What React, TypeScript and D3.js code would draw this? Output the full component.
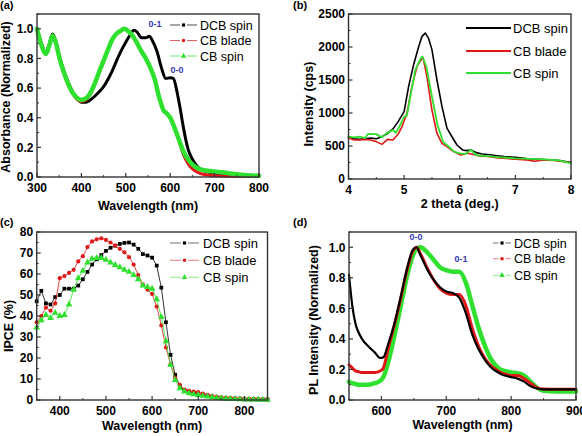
import * as d3 from 'd3'

const W = 582, H = 436
const FONT = "'Liberation Sans', Arial, sans-serif"
const BLACK = '#000000', RED = '#e01818', GREEN = '#2fe02f', NOTE = '#3a3ab0'

const names = ['DCB spin', 'CB blade', 'CB spin']

// (a) UV-vis absorbance, normalized
const absDcbWl = [300, 310, 320, 328, 335, 342, 350, 360, 370, 380, 390, 400, 410, 420, 430, 440, 450, 460, 470, 480, 490, 500, 510, 518, 525, 535, 545, 553, 560, 570, 580, 590, 600, 607, 615, 622, 630, 640, 650, 660, 670, 680, 700, 725, 750, 800]
const absDcb = [1.0, 0.9, 0.84, 0.9, 0.965, 0.92, 0.82, 0.72, 0.64, 0.575, 0.53, 0.505, 0.505, 0.52, 0.545, 0.575, 0.61, 0.66, 0.72, 0.79, 0.855, 0.91, 0.96, 0.99, 0.98, 0.94, 0.94, 0.95, 0.92, 0.85, 0.74, 0.665, 0.67, 0.665, 0.58, 0.47, 0.33, 0.19, 0.12, 0.075, 0.05, 0.038, 0.025, 0.015, 0.01, 0.005]
const absCbWl = [300, 310, 320, 328, 335, 342, 350, 360, 370, 380, 390, 400, 410, 420, 430, 440, 450, 460, 470, 480, 490, 497, 505, 515, 525, 535, 545, 555, 565, 575, 585, 592, 600, 610, 620, 630, 640, 650, 660, 670, 690, 720, 760, 800]
const absBlade = [1.0, 0.89, 0.83, 0.89, 0.955, 0.91, 0.81, 0.71, 0.625, 0.565, 0.525, 0.51, 0.52, 0.56, 0.625, 0.705, 0.78, 0.86, 0.93, 0.97, 0.99, 1.0, 0.985, 0.955, 0.905, 0.85, 0.8, 0.74, 0.66, 0.54, 0.45, 0.43, 0.4, 0.33, 0.24, 0.15, 0.09, 0.055, 0.035, 0.022, 0.012, 0.006, 0.004, 0.003]
const absSpin = [1.0, 0.89, 0.83, 0.89, 0.955, 0.91, 0.81, 0.71, 0.63, 0.57, 0.535, 0.52, 0.53, 0.565, 0.63, 0.71, 0.785, 0.86, 0.93, 0.97, 0.99, 1.0, 0.985, 0.955, 0.905, 0.85, 0.8, 0.74, 0.66, 0.54, 0.45, 0.43, 0.4, 0.33, 0.25, 0.17, 0.12, 0.085, 0.062, 0.05, 0.04, 0.03, 0.015, 0.008]

// (b) out-of-plane XRD
const xrdDcbT = [4.0, 4.1, 4.2, 4.3, 4.4, 4.5, 4.6, 4.7, 4.8, 4.9, 5.0, 5.08, 5.17, 5.26, 5.32, 5.38, 5.44, 5.5, 5.59, 5.68, 5.77, 5.86, 5.95, 6.05, 6.12, 6.2, 6.3, 6.4, 6.5, 6.6, 6.8, 7.0, 7.2, 7.4, 7.6, 7.8, 8.0]
const xrdDcb = [640, 610, 600, 610, 620, 610, 640, 690, 760, 880, 1020, 1400, 1730, 2000, 2160, 2210, 2130, 1960, 1500, 1100, 770, 640, 515, 440, 430, 440, 400, 380, 370, 360, 340, 330, 310, 300, 290, 280, 250]
const xrdBladeT = [4.0, 4.1, 4.2, 4.3, 4.4, 4.5, 4.6, 4.7, 4.8, 4.9, 4.96, 5.05, 5.14, 5.23, 5.29, 5.34, 5.41, 5.5, 5.59, 5.68, 5.77, 5.89, 6.02, 6.14, 6.25, 6.35, 6.5, 6.7, 7.0, 7.2, 7.35, 7.5, 7.7, 8.0]
const xrdBlade = [626, 590, 590, 600, 590, 566, 525, 600, 590, 690, 790, 995, 1400, 1700, 1790, 1840, 1550, 1045, 690, 540, 490, 415, 365, 390, 370, 350, 340, 320, 300, 290, 270, 290, 280, 250]
const xrdSpinT = [4.0, 4.1, 4.2, 4.3, 4.35, 4.5, 4.6, 4.7, 4.8, 4.85, 4.9, 5.0, 5.05, 5.1, 5.2, 5.3, 5.33, 5.4, 5.5, 5.6, 5.7, 5.8, 5.9, 6.0, 6.1, 6.2, 6.3, 6.5, 6.7, 7.0, 7.3, 7.5, 7.8, 8.0]
const xrdSpin = [641, 630, 641, 620, 682, 680, 631, 702, 742, 700, 768, 944, 960, 1197, 1650, 1830, 1855, 1700, 1250, 820, 565, 490, 414, 389, 380, 439, 360, 348, 330, 313, 305, 298, 280, 237]

// (c) IPCE spectra
const ipceWl = [350, 360, 370, 380, 390, 400, 410, 420, 430, 440, 450, 460, 470, 480, 490, 500, 510, 520, 530, 540, 550, 560, 570, 580, 590, 600, 610, 620, 630, 640, 650, 660, 670, 680, 690, 700, 710, 720, 730, 740, 750, 760, 770, 780, 790, 800, 810, 820, 830, 840, 850]
const ipceDcb = [47, 52, 46, 45.5, 49, 50, 53, 53, 53, 54.5, 57.5, 61, 64.5, 67, 69, 71, 72.5, 73.5, 74.3, 74.8, 75, 74, 72, 69.5, 68.8, 67.8, 64, 53.5, 37, 21.5, 12, 6.7, 4.8, 4, 3.5, 3, 2.4, 1.9, 1.4, 1.1, 0.8, 0.6, 0.5, 0.4, 0.4, 0.3, 0.3, 0.3, 0.2, 0.2, 0.2]
const ipceBlade = [37, 40, 44, 42.5, 46, 58, 59, 60.5, 62, 66, 68.5, 72.8, 75.5, 76.5, 77, 76.2, 75, 73.5, 72, 70.3, 68, 64.5, 59.5, 55, 52.5, 50.5, 44.5, 35.5, 25, 17, 10.6, 7.2, 5, 4.4, 4, 3.7, 3, 2.5, 2, 1.6, 1.3, 1.1, 1, 0.9, 0.8, 0.7, 0.6, 0.5, 0.5, 0.4, 0.4]
const ipceSpin = [34.5, 38, 40.5, 39, 41.5, 40, 40.5, 45.5, 52.5, 58, 61.5, 65.5, 67.2, 67.6, 67.6, 66.8, 65.5, 64.3, 63.2, 62, 61, 59.5, 57.5, 54.5, 53.8, 53, 48, 39.5, 28, 16.7, 9.5, 5.6, 4, 3.2, 2.7, 2.4, 2, 1.6, 1.3, 1, 0.8, 0.6, 0.5, 0.4, 0.3, 0.3, 0.2, 0.2, 0.2, 0.1, 0.1]

// (d) photoluminescence, normalized
const plWl = [550, 555, 560, 565, 570, 580, 590, 598, 603, 610, 620, 630, 640, 648, 654, 660, 670, 680, 690, 700, 710, 720, 730, 740, 750, 760, 770, 780, 790, 800, 810, 820, 830, 840, 850, 870, 900]
const plDcb = [0.82, 0.62, 0.5, 0.44, 0.4, 0.35, 0.31, 0.275, 0.28, 0.36, 0.5, 0.68, 0.87, 0.98, 1.0, 0.95, 0.86, 0.79, 0.74, 0.71, 0.7, 0.67, 0.57, 0.43, 0.33, 0.26, 0.21, 0.18, 0.16, 0.15, 0.14, 0.12, 0.09, 0.075, 0.07, 0.07, 0.07]
const plBlade = [0.23, 0.21, 0.19, 0.185, 0.18, 0.18, 0.18, 0.19, 0.21, 0.33, 0.49, 0.67, 0.86, 0.97, 1.0, 0.96, 0.87, 0.79, 0.73, 0.7, 0.69, 0.69, 0.62, 0.47, 0.35, 0.27, 0.22, 0.19, 0.17, 0.16, 0.16, 0.14, 0.11, 0.08, 0.072, 0.07, 0.07]
const plSpin = [0.12, 0.11, 0.105, 0.1, 0.1, 0.1, 0.11, 0.125, 0.15, 0.24, 0.42, 0.62, 0.82, 0.94, 0.99, 1.0, 0.97, 0.92, 0.87, 0.85, 0.84, 0.84, 0.77, 0.62, 0.47, 0.35, 0.26, 0.21, 0.19, 0.18, 0.175, 0.16, 0.12, 0.08, 0.06, 0.055, 0.055]

// tick labels
const absXTicks = [300, 400, 500, 600, 700, 800]
const normYTicks = [0, 0.2, 0.4, 0.6, 0.8, 1.0]
const xrdXTicks = [4, 5, 6, 7, 8]
const xrdYTicks = [0, 500, 1000, 1500, 2000, 2500]
const ipceXTicks = [400, 500, 600, 700, 800]
const ipceYTicks = [0, 10, 20, 30, 40, 50, 60, 70, 80]
const plXTicks = [600, 700, 800, 900]

type Series = { name: string, xs: number[], ys: number[], color: string, width: number, marker?: d3.SymbolType, curve?: d3.CurveFactory, lineOpacity?: number }
type Legend = { x1: number, x2: number, tx: number, rows: number[], size: number, symbols: boolean, lw: number }
type Spec = {
  box: [number, number, number, number]
  xDomain: [number, number], yDomain: [number, number]
  xTicks: number[], yTicks: number[], xMinor: number, yMinor: number
  xFmt: (v: number) => string, yFmt: (v: number) => string
  xTitle: string, yTitle: string, xTitleDy: number, yTitleX: number, yTitleY: number
  label: string, labelX: number, labelY: number
  series: Series[], legend: Legend
  notes: { text: string, x: number, y: number }[]
}

const f1 = d3.format('.1f')
const f0 = d3.format('d')

const panels: Spec[] = [
  {
    box: [37, 259, 14, 177], xDomain: [300, 800], yDomain: [0, 1.1],
    xTicks: absXTicks, yTicks: normYTicks, xMinor: 50, yMinor: 0.1, xFmt: f0, yFmt: f1,
    xTitle: 'Wavelength (nm)', yTitle: 'Absorbance (Normalized)', xTitleDy: 33, yTitleX: 10, yTitleY: 97,
    label: '(a)', labelX: 0, labelY: 9,
    series: [
      { name: names[0], xs: absDcbWl, ys: absDcb, color: BLACK, width: 3, marker: d3.symbolSquare, curve: d3.curveMonotoneX },
      { name: names[1], xs: absCbWl, ys: absBlade, color: RED, width: 3, marker: d3.symbolCircle, curve: d3.curveMonotoneX },
      { name: names[2], xs: absCbWl, ys: absSpin, color: GREEN, width: 4.5, marker: d3.symbolTriangle, curve: d3.curveMonotoneX },
    ],
    legend: { x1: 170, x2: 197, tx: 200, rows: [25, 40.5, 56], size: 12.5, symbols: true, lw: 1 },
    notes: [{ text: '0-1', x: 155, y: 27 }, { text: '0-0', x: 177, y: 73 }],
  },
  {
    box: [348.5, 571, 14, 179], xDomain: [4, 8], yDomain: [0, 2500],
    xTicks: xrdXTicks, yTicks: xrdYTicks, xMinor: 0.5, yMinor: 250, xFmt: f0, yFmt: f0,
    xTitle: '2 theta (deg.)', yTitle: 'Intensity (cps)', xTitleDy: 29, yTitleX: 313, yTitleY: 104,
    label: '(b)', labelX: 293, labelY: 9,
    series: [
      { name: names[0], xs: xrdDcbT, ys: xrdDcb, color: BLACK, width: 1.6 },
      { name: names[1], xs: xrdBladeT, ys: xrdBlade, color: RED, width: 1.6 },
      { name: names[2], xs: xrdSpinT, ys: xrdSpin, color: GREEN, width: 1.8 },
    ],
    legend: { x1: 466, x2: 511, tx: 513, rows: [28, 51, 73], size: 13, symbols: false, lw: 1.8 },
    notes: [],
  },
  {
    box: [36.7, 267.5, 232, 400], xDomain: [350, 850], yDomain: [0, 80],
    xTicks: ipceXTicks, yTicks: ipceYTicks, xMinor: 50, yMinor: 5, xFmt: f0, yFmt: f0,
    xTitle: 'Wavelength (nm)', yTitle: 'IPCE (%)', xTitleDy: 30, yTitleX: 13, yTitleY: 326,
    label: '(c)', labelX: 0, labelY: 226,
    series: [
      { name: names[0], xs: ipceWl, ys: ipceDcb, color: BLACK, width: 0.8, marker: d3.symbolSquare },
      { name: names[1], xs: ipceWl, ys: ipceBlade, color: RED, width: 0.8, marker: d3.symbolCircle },
      { name: names[2], xs: ipceWl, ys: ipceSpin, color: GREEN, width: 0.8, marker: d3.symbolTriangle },
    ],
    legend: { x1: 170, x2: 199, tx: 203, rows: [243, 260.3, 277.3], size: 13, symbols: true, lw: 0.8 },
    notes: [],
  },
  {
    box: [349, 576, 232, 400], xDomain: [550, 900], yDomain: [0, 1.1],
    xTicks: plXTicks, yTicks: normYTicks, xMinor: 50, yMinor: 0.1, xFmt: f0, yFmt: f1,
    xTitle: 'Wavelength (nm)', yTitle: 'PL Intensity (Normalized)', xTitleDy: 29, yTitleX: 318, yTitleY: 320,
    label: '(d)', labelX: 293, labelY: 226,
    series: [
      { name: names[2], xs: plWl, ys: plSpin, color: GREEN, width: 4.5, marker: d3.symbolTriangle, curve: d3.curveMonotoneX },
      { name: names[1], xs: plWl, ys: plBlade, color: RED, width: 3, marker: d3.symbolCircle, curve: d3.curveMonotoneX },
      { name: names[0], xs: plWl, ys: plDcb, color: BLACK, width: 2.2, marker: d3.symbolSquare, curve: d3.curveMonotoneX },
    ],
    legend: { x1: 493, x2: 511, tx: 514, rows: [243, 258.7, 275.3], size: 12.5, symbols: true, lw: 0.8 },
    notes: [{ text: '0-0', x: 416, y: 240 }, { text: '0-1', x: 461, y: 262 }],
  },
]

function Panel({ spec }: { spec: Spec }) {
  const [l, r, t, b] = spec.box
  const x = d3.scaleLinear().domain(spec.xDomain).range([l, r])
  const y = d3.scaleLinear().domain(spec.yDomain).range([b, t])
  const xMinor = d3.range(spec.xDomain[0], spec.xDomain[1] + 1e-9, spec.xMinor).filter(v => !spec.xTicks.some(m => Math.abs(m - v) < 1e-9))
  const yMinor = d3.range(spec.yDomain[0], spec.yDomain[1] + 1e-9, spec.yMinor).filter(v => !spec.yTicks.some(m => Math.abs(m - v) < 1e-9))
  const isMarked = spec.series[0].width < 1

  // legend always listed DCB, CB blade, CB spin
  const legendSeries = names.map(n => spec.series.find(s => s.name === n)!)

  return (
    <g>
      <text x={spec.labelX} y={spec.labelY} fontSize={11} fontWeight='bold'>{spec.label}</text>

      {spec.series.map(s => {
        const pts = s.xs.map((v, i) => [v, s.ys[i]] as [number, number])
        const line = d3.line<[number, number]>().x(d => x(d[0])).y(d => y(d[1])).curve(s.curve ?? d3.curveLinear)
        return (
          <g key={s.name}>
            <path d={line(pts) ?? ''} fill='none' stroke={s.color} strokeWidth={s.width} strokeLinejoin='round' strokeLinecap='round' />
            {isMarked && s.marker && pts.map((p, i) => (
              <path key={i} d={d3.symbol(s.marker!, s.marker === d3.symbolTriangle ? 20 : 14)() ?? ''}
                transform={`translate(${x(p[0])},${y(p[1])})`} fill={s.color} />
            ))}
          </g>
        )
      })}

      <rect x={l} y={t} width={r - l} height={b - t} fill='none' stroke='#333' strokeWidth={1.4} />

      {spec.xTicks.map(v => (
        <g key={'xt' + v}>
          <line x1={x(v)} x2={x(v)} y1={b} y2={b - 4} stroke='#333' strokeWidth={1.2} />
          <text x={x(v)} y={b + 15} textAnchor='middle' fontSize={12} fontWeight='bold'>{spec.xFmt(v)}</text>
        </g>
      ))}
      {xMinor.map(v => <line key={'xm' + v} x1={x(v)} x2={x(v)} y1={b} y2={b - 2} stroke='#333' strokeWidth={1} />)}
      {spec.yTicks.map(v => (
        <g key={'yt' + v}>
          <line x1={l} x2={l + 4} y1={y(v)} y2={y(v)} stroke='#333' strokeWidth={1.2} />
          <text x={l - 3.5} y={y(v)} dy='0.36em' textAnchor='end' fontSize={12} fontWeight='bold'>{spec.yFmt(v)}</text>
        </g>
      ))}
      {yMinor.map(v => <line key={'ym' + v} x1={l} x2={l + 2} y1={y(v)} y2={y(v)} stroke='#333' strokeWidth={1} />)}

      <text x={(l + r) / 2} y={b + spec.xTitleDy} textAnchor='middle' fontSize={12.5} fontWeight='bold'>{spec.xTitle}</text>
      <text transform={`translate(${spec.yTitleX},${spec.yTitleY}) rotate(-90)`} textAnchor='middle' fontSize={12.5} fontWeight='bold'>{spec.yTitle}</text>

      {spec.notes.map(n => (
        <text key={n.text} x={n.x} y={n.y} textAnchor='middle' fontSize={9} fontWeight='bold' fill={NOTE}>{n.text}</text>
      ))}

      {legendSeries.map((s, i) => {
        const lg = spec.legend
        const cy = lg.rows[i]
        const mid = (lg.x1 + lg.x2) / 2
        return (
          <g key={'lg' + s.name}>
            {lg.symbols ? (
              <>
                <line x1={lg.x1} x2={mid - 3.5} y1={cy} y2={cy} stroke={s.color} strokeWidth={lg.lw} strokeOpacity={0.7} />
                <line x1={mid + 3.5} x2={lg.x2} y1={cy} y2={cy} stroke={s.color} strokeWidth={lg.lw} strokeOpacity={0.7} />
                <path d={d3.symbol(s.marker!, s.marker === d3.symbolTriangle ? 14 : 10)() ?? ''} transform={`translate(${mid},${cy})`} fill={s.color} />
              </>
            ) : (
              <line x1={lg.x1} x2={lg.x2} y1={cy} y2={cy} stroke={s.color} strokeWidth={lg.lw} />
            )}
            <text x={lg.tx} y={cy} dy='0.36em' fontSize={lg.size}>{s.name}</text>
          </g>
        )
      })}
    </g>
  )
}

export default function App() {
  return (
    <svg width={W} height={H} viewBox={`0 0 ${W} ${H}`}
      style={{ position: 'fixed', left: 0, top: 0, background: '#fff', fontFamily: FONT }}>
      {panels.map(p => <Panel key={p.label} spec={p} />)}
    </svg>
  )
}
